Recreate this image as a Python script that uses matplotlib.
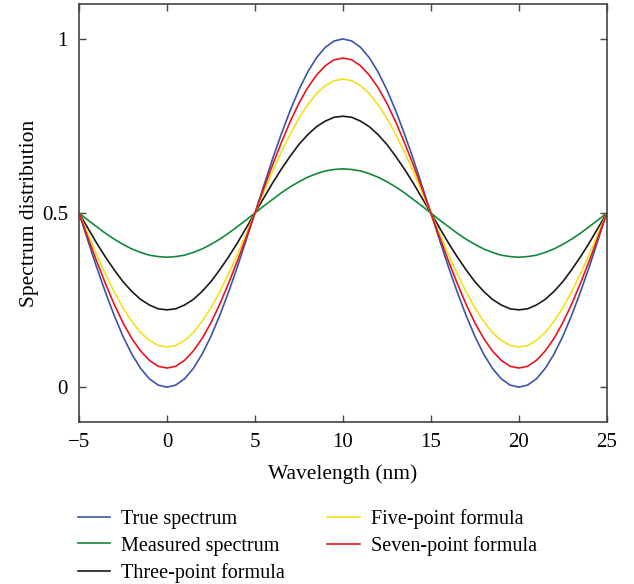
import matplotlib

matplotlib.use("Agg")
import matplotlib.pyplot as plt

plt.rcParams["font.family"] = ["Liberation Serif", "DejaVu Serif"]

# wavelength samples (nm), every 0.5 nm from -5 to 25
wavelength = [v / 2 for v in range(-10, 51)]

# values at those wavelengths
true_spectrum = [
    0.500, 0.422, 0.345, 0.273, 0.206, 0.146, 0.095, 0.054, 0.024, 0.006, 0.000,
    0.006, 0.024, 0.054, 0.095, 0.146, 0.206, 0.273, 0.345, 0.422,
    0.500, 0.578, 0.655, 0.727, 0.794, 0.854, 0.905, 0.946, 0.976, 0.994, 1.000,
    0.994, 0.976, 0.946, 0.905, 0.854, 0.794, 0.727, 0.655, 0.578,
    0.500, 0.422, 0.345, 0.273, 0.206, 0.146, 0.095, 0.054, 0.024, 0.006, 0.000,
    0.006, 0.024, 0.054, 0.095, 0.146, 0.206, 0.273, 0.345, 0.422, 0.500]
measured = [
    0.500, 0.480, 0.461, 0.442, 0.425, 0.410, 0.397, 0.387, 0.379, 0.375, 0.373,
    0.375, 0.379, 0.387, 0.397, 0.410, 0.425, 0.442, 0.461, 0.480,
    0.500, 0.520, 0.539, 0.558, 0.575, 0.590, 0.603, 0.613, 0.621, 0.625, 0.627,
    0.625, 0.621, 0.613, 0.603, 0.590, 0.575, 0.558, 0.539, 0.520,
    0.500, 0.480, 0.461, 0.442, 0.425, 0.410, 0.397, 0.387, 0.379, 0.375, 0.373,
    0.375, 0.379, 0.387, 0.397, 0.410, 0.425, 0.442, 0.461, 0.480, 0.500]
three_point = [
    0.500, 0.457, 0.414, 0.374, 0.337, 0.303, 0.275, 0.252, 0.236, 0.225, 0.222,
    0.225, 0.236, 0.252, 0.275, 0.303, 0.337, 0.374, 0.414, 0.457,
    0.500, 0.543, 0.586, 0.626, 0.663, 0.697, 0.725, 0.748, 0.764, 0.775, 0.778,
    0.775, 0.764, 0.748, 0.725, 0.697, 0.663, 0.626, 0.586, 0.543,
    0.500, 0.457, 0.414, 0.374, 0.337, 0.303, 0.275, 0.252, 0.236, 0.225, 0.222,
    0.225, 0.236, 0.252, 0.275, 0.303, 0.337, 0.374, 0.414, 0.457, 0.500]
five_point = [
    0.500, 0.440, 0.381, 0.325, 0.274, 0.228, 0.189, 0.157, 0.134, 0.120, 0.115,
    0.120, 0.134, 0.157, 0.189, 0.228, 0.274, 0.325, 0.381, 0.440,
    0.500, 0.560, 0.619, 0.675, 0.726, 0.772, 0.811, 0.843, 0.866, 0.880, 0.885,
    0.880, 0.866, 0.843, 0.811, 0.772, 0.726, 0.675, 0.619, 0.560,
    0.500, 0.440, 0.381, 0.325, 0.274, 0.228, 0.189, 0.157, 0.134, 0.120, 0.115,
    0.120, 0.134, 0.157, 0.189, 0.228, 0.274, 0.325, 0.381, 0.440, 0.500]
seven_point = [
    0.500, 0.430, 0.362, 0.298, 0.238, 0.185, 0.140, 0.104, 0.077, 0.060, 0.055,
    0.060, 0.077, 0.104, 0.140, 0.185, 0.238, 0.298, 0.362, 0.430,
    0.500, 0.570, 0.638, 0.702, 0.762, 0.815, 0.860, 0.896, 0.923, 0.940, 0.945,
    0.940, 0.923, 0.896, 0.860, 0.815, 0.762, 0.702, 0.638, 0.570,
    0.500, 0.430, 0.362, 0.298, 0.238, 0.185, 0.140, 0.104, 0.077, 0.060, 0.055,
    0.060, 0.077, 0.104, 0.140, 0.185, 0.238, 0.298, 0.362, 0.430, 0.500]

x_ticks = [-5, 0, 5, 10, 15, 20, 25]
x_tick_labels = ["\u22125", "0", "5", "10", "15", "20", "25"]
y_ticks = [0, 0.5, 1]
y_tick_labels = ["0", "0.5", "1"]

fig = plt.figure(figsize=(6.34, 5.84), dpi=100)
ax = fig.add_axes([0.1246, 0.2774, 0.8325, 0.7156])

series = [
    ("True spectrum", true_spectrum, "#3a55a8"),
    ("Measured spectrum", measured, "#13883a"),
    ("Three-point formula", three_point, "#1a1a1a"),
    ("Five-point formula", five_point, "#f2e21a"),
    ("Seven-point formula", seven_point, "#e8161c"),
]
for label, ys, color in series:
    ax.plot(wavelength, ys, color=color, lw=1.2, label=label)

ax.set_xlim(-5, 25)
ax.set_ylim(-0.1, 1.1)
ax.set_xticks(x_ticks)
ax.set_xticklabels(x_tick_labels)
ax.set_yticks(y_ticks)
ax.set_yticklabels(y_tick_labels)
ax.tick_params(direction="in", top=True, right=True, labelsize=15, length=5,
               width=1.0, color="#444444", pad=8)
for s in ax.spines.values():
    s.set_color("#444444")
    s.set_linewidth(1.2)
ax.set_xlabel("Wavelength (nm)", fontsize=15.5, labelpad=9)
ax.set_ylabel("Spectrum distribution", fontsize=15.5, labelpad=2)

handles, labels = ax.get_legend_handles_labels()
fig.legend(handles, labels, loc="upper left", bbox_to_anchor=(0.123, 0.128),
           ncol=2, frameon=False, fontsize=14.5, handlelength=1.6,
           handletextpad=0.55, columnspacing=2.1, labelspacing=0.36,
           borderaxespad=0, borderpad=0)

fig.savefig("out.png", dpi=100)
